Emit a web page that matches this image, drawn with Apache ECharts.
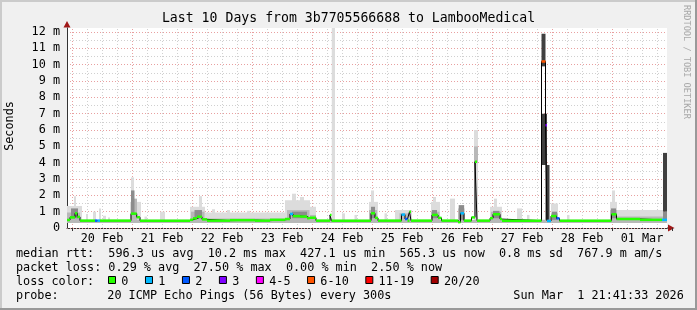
<!DOCTYPE html>
<html><head><meta charset="utf-8">
<script src="https://cdn.jsdelivr.net/npm/echarts@6/dist/echarts.min.js"></script>
<style>html,body{margin:0;padding:0;background:#f0f0f0;}#c{width:697px;height:310px;}</style>
</head><body><div id="c"></div>
<script>
// ---- data (time in hours since 20 Feb 00:00, values in ms) ----
const dayLabels = ['20 Feb','21 Feb','22 Feb','23 Feb','24 Feb','25 Feb','26 Feb','27 Feb','28 Feb','01 Mar'];
const dayLines = [0,24,48,72,96,120,144,168,192,216];
const minorLines = [6,12,18,30,36,42,54,60,66,78,84,90,102,108,114,126,132,138,150,156,162,174,180,186,198,204,210,222,228,234];
const tStart = -2, tEnd = 238;
const lossLabels = ['0','1','2','3','4-5','6-10','11-19','20/20'];
const lossColors = ['#26ff00','#00b8ff','#0059ff','#7e00ff','#ff00ff','#ff5500','#ff0000','#a00000'];

const medT = [-2,-0.8,1.2,2.1,3.2,9.2,10.2,11.2,23.6,25.9,27.2,47.2,48.4,50,52,54,63.2,73.2,79.2,85.2,87.2,88.4,91.2,94,95.2,97.6,103.2,103.8,119.6,121.2,122.4,131.8,133.2,134.2,135,135.6,144,146.4,147.8,154.4,155.4,156.8,159.8,161.2,162,167.2,168.4,171.2,172,187.8,189.4,190,191.6,193.8,195,215.8,217.8,227.2,236];
const medV = [0.49,0.65,0.9,0.68,0.45,0.45,0.45,0.45,0.88,0.66,0.45,0.5,0.59,0.69,0.53,0.45,0.48,0.45,0.5,0.55,0.86,0.73,0.7,0.6,0.63,0.45,0.8,0.45,0.9,0.62,0.45,0.82,0.55,0.45,1.0,0.45,0.8,0.62,0.45,0.36,0.9,0.45,0.65,4.06,0.45,0.6,0.84,0.55,0.45,10.2,6.3,0.43,0.73,0.59,0.45,0.84,0.55,0.5,0.5];
const medLoss = [0,0,0,0,0,2,1,0,0,0,0,0,0,0,0,0,0,0,0,0,1,0,0,0,0,0,0,0,0,0,0,1,2,0,0,0,0,0,0,0,1,0,0,0,0,0,0,0,0,5,3,1,0,2,0,0,0,0,1];

// smoke bands: [from, to, low, high]
const smokeLight = [
 [-2,4,0.35,1.35],[0.8,1.6,1.3,1.95],[5.6,6.4,0.4,0.85],[8.4,9.6,0.4,1.0],[10.8,11.6,0.4,1.2],
 [12.4,13.6,0.4,0.75],[14.4,15.2,0.4,0.65],[23.2,27.6,0.4,1.6],[23.6,24.8,1.5,3.1],[29,30,0.4,0.7],
 [35.2,37.2,0.4,1.0],[47.2,53.2,0.35,1.3],[50.8,52,1.2,1.95],[53.2,85.2,0.35,0.95],[56,57.2,0.9,1.15],
 [62,63.2,0.9,1.1],[70,71.2,0.9,1.05],[85.2,95.2,0.4,1.7],[88,89.6,1.6,2.1],[91.2,92.8,1.6,1.9],
 [95.2,97.6,0.4,1.3],[103.9,105.2,0.4,12.3],[108,109.2,0.4,0.9],[113,114,0.4,0.8],[118.8,122.4,0.4,1.6],
 [119.6,120.8,1.5,2.3],[125,126,0.4,0.9],[129.2,136,0.4,1.1],[143.6,147.2,0.4,1.6],[144.4,145.6,1.5,1.9],
 [151.2,153.2,0.4,1.8],[154.4,157,0.4,1.4],[160.8,162.4,0.4,6.0],[167.2,172,0.4,1.3],[168.8,170,1.2,1.8],
 [178,180,0.4,1.2],[182,183,0.4,0.8],[191.6,194.4,0.4,1.5],[198,199,0.4,0.8],[215.2,218,0.4,1.6],
 [216,217.2,1.5,2.3],[218,236.4,0.4,1.1]
];
const smokeMid = [
 [-2,238,0.3,0.5],[-2,3.2,0.35,0.95],[23.6,26,0.5,1.8],[47.6,53,0.4,1.0],[53.2,85.2,0.35,0.58],
 [86,95,0.45,1.1],[95.2,97.6,0.45,0.8],[118.8,122,0.45,1.1],[131,135,0.45,0.9],[143.6,147,0.45,1.0],
 [154.4,157,0.45,1.2],[160.8,162.4,4.0,5.0],[167.6,171.6,0.45,1.0],[191.6,194.4,0.45,0.9],
 [215.2,218,0.45,1.1],[218,236.4,0.45,0.7]
];
const smokeDeep = [
 [23.6,25,0.8,2.3],[-0.4,2.4,0.6,1.2],[49,52,0.6,1.1],[88,94,0.6,1.0],[119.6,121.2,0.6,1.3],
 [144,146,0.6,1.1],[154.8,156.8,0.5,1.4],[168.4,171,0.6,1.05],[192,194,0.5,1.0],[215.6,217.6,0.6,1.2],
 [236.4,238,0.5,1.0]
];
const smokeDark = [
 [187.8,189.4,9.9,11.9],[187.8,190,3.86,7.0],[189.4,191,0.5,3.86],[236.4,238,1.0,4.6]
];

const statsLine1 = 'median rtt:  596.3 us avg  10.2 ms max  427.1 us min  565.3 us now  0.8 ms sd  767.9 m am/s';
const statsLine2 = 'packet loss: 0.29 % avg  27.50 % max  0.00 % min  2.50 % now';
const probeText = '20 ICMP Echo Pings (56 Bytes) every 300s';
const dateText = 'Sun Mar  1 21:41:33 2026';
const titleText = 'Last 10 Days from 3b7705566688 to LambooMedical';

// ---- chart ----
const MONO = '"DejaVu Sans Mono", monospace';
const FS = 11.8;
const chart = echarts.init(document.getElementById('c'));

function rectItem(params, api) {
  const p0 = api.coord([api.value(0), api.value(3)]);
  const p1 = api.coord([api.value(1), api.value(2)]);
  const cs = params.coordSys;
  const shape = echarts.graphic.clipRectByRect(
    {x: p0[0], y: p0[1], width: p1[0] - p0[0], height: p1[1] - p0[1]},
    {x: cs.x, y: cs.y, width: cs.width, height: cs.height});
  return shape && {type: 'rect', shape: shape, style: {fill: api.visual('color')}};
}
function smokeSeries(data, color) {
  return {type: 'custom', xAxisIndex: 0, yAxisIndex: 1, renderItem: rectItem, data: data,
    itemStyle: {color: color}, encode: {x: [0, 1], y: [2, 3]}, silent: true, animation: false};
}
const medSegs = medT.map((t, i) => [t, i + 1 < medT.length ? medT[i + 1] : tEnd, medV[i], medLoss[i]]);
const medLine = medT.map((t, i) => [t, medV[i]]).concat([[tEnd, medV[medV.length - 1]]]);

// legend graphics
const g = [];
g.push({type:'rect', shape:{x:0,y:0,width:697,height:2}, style:{fill:'#cbcbcb'}, silent:true});
g.push({type:'rect', shape:{x:0,y:0,width:2,height:310}, style:{fill:'#cbcbcb'}, silent:true});
g.push({type:'rect', shape:{x:0,y:308,width:697,height:2}, style:{fill:'#999999'}, silent:true});
g.push({type:'rect', shape:{x:695,y:0,width:2,height:310}, style:{fill:'#999999'}, silent:true});
function txt(s, x, y, extra) {
  return Object.assign({type:'text', x:x, y:y, silent:true,
    style:{text:s, x:0, y:0, font: FS + 'px ' + MONO, fill:'#000', align:'left', verticalAlign:'middle'}}, extra || {});
}
const t = txt(titleText, 348.5, 19); t.style.font = '13.2px ' + MONO; t.style.align = 'center'; g.push(t);
const sec = txt('Seconds', 10, 126, {rotation: Math.PI / 2}); sec.style.align = 'center'; g.push(sec);
const rr = txt('RRDTOOL / TOBI OETIKER', 686, 5, {rotation: -Math.PI / 2});
rr.style.font = '8.6px ' + MONO; rr.style.fill = '#a8a8a8'; g.push(rr);
g.push(txt(statsLine1, 16, 254));
g.push(txt(statsLine2, 16, 268));
g.push(txt('loss color:', 16, 282));
g.push(txt('probe:', 16, 296));
g.push(txt(probeText, 107.3, 296));
g.push(txt(dateText, 513.3, 296));
let bx = 108;
lossLabels.forEach((lab, i) => {
  g.push({type:'rect', shape:{x:bx + 0.5, y:276.5, width:7, height:7}, style:{fill:lossColors[i], stroke:'#000', lineWidth:1}, silent:true});
  g.push(txt(lab, bx + 13.3, 282));
  bx += 29.87 + 7.1 * lab.length;
});
// axis arrows
g.push({type:'polygon', shape:{points:[[63.5,27.5],[70.5,27.5],[67,21]]}, style:{fill:'#a01818'}, silent:true});
g.push({type:'line', shape:{x1:667,y1:228,x2:669,y2:228}, style:{stroke:'#333',lineWidth:1}, silent:true});
g.push({type:'polygon', shape:{points:[[668,224.5],[668,231.5],[674.5,228]]}, style:{fill:'#a01818'}, silent:true});

const option = {
  backgroundColor: '#f0f0f0',
  animation: false,
  grid: [
    {left: 67, right: 30, top: 28, bottom: 82, show: true, backgroundColor: '#ffffff', borderWidth: 0,
     containLabel: false, outerBoundsMode: 'none'},
    {left: 72, right: 25, top: 28, bottom: 82, show: false, containLabel: false, outerBoundsMode: 'none'}
  ],
  xAxis: [
    {type: 'value', gridIndex: 0, min: tStart, max: tEnd, position: 'bottom',
     axisLine: {show: true, onZero: false, lineStyle: {color: '#333', width: 1}},
     axisTick: {show: false}, axisLabel: {show: false}, splitLine: {show: false}},
    {type: 'category', gridIndex: 1, data: dayLabels, boundaryGap: true, position: 'bottom',
     axisLine: {show: false},
     axisTick: {show: true, length: 3, lineStyle: {color: '#333'}},
     axisLabel: {show: true, interval: 0, margin: 5, fontFamily: MONO, fontSize: FS, color: '#000'},
     splitLine: {show: false}}
  ],
  yAxis: [
    {type: 'value', gridIndex: 0, min: 0, max: 12.25, interval: 0.5, position: 'left',
     axisLine: {show: false}, axisTick: {show: false}, axisLabel: {show: false},
     splitLine: {show: true, showMaxLine: false, lineStyle: {color: '#d0d0d0', type: [1, 2], width: 1}}},
    {type: 'value', gridIndex: 0, min: 0, max: 12.25, interval: 1, z: 1, position: 'left', offset: 0,
     axisLine: {show: true, onZero: false, lineStyle: {color: '#333', width: 1}},
     axisTick: {show: false},
     axisLabel: {show: true, margin: 7, fontFamily: MONO, fontSize: FS, color: '#000',
       formatter: v => v === 0 ? '0' : (Number.isInteger(v) ? v + ' m' : '')},
     splitLine: {show: true, showMaxLine: false, lineStyle: {color: '#e8a0a0', type: [1, 2], width: 1}}},
    {type: 'value', gridIndex: 1, min: 0, max: 12.25, show: false}
  ],
  series: [
    smokeSeries(smokeLight, '#dcdcdc'),
    smokeSeries(smokeMid, '#b8b8b8'),
    smokeSeries(smokeDeep, '#8c8c8c'),
    smokeSeries(smokeDark, '#404040'),
    {type: 'line', xAxisIndex: 0, yAxisIndex: 1, data: medLine, step: 'end', showSymbol: false, symbol: 'none',
     lineStyle: {color: '#000', width: 1}, silent: true, z: 3,
     markLine: {silent: true, symbol: 'none', z: 1, animation: false, label: {show: false},
       data: minorLines.map(v => ({xAxis: v, lineStyle: {color: '#d0d0d0', type: [1, 2], width: 1}}))
         .concat(dayLines.map(v => ({xAxis: v, lineStyle: {color: '#e8a0a0', type: [1, 2], width: 1}})))}},
    {type: 'custom', xAxisIndex: 0, yAxisIndex: 1, data: medSegs, encode: {x: [0, 1], y: 2}, z: 4, silent: true,
     renderItem: (params, api) => {
       const a = api.coord([api.value(0), api.value(2)]);
       const b = api.coord([api.value(1), api.value(2)]);
       return {type: 'line', shape: {x1: a[0], y1: a[1], x2: b[0], y2: b[1]},
         style: {stroke: lossColors[api.value(3)], lineWidth: 2.5}};
     }}
  ],
  graphic: g
};
chart.setOption(option);
</script>
</body></html>
